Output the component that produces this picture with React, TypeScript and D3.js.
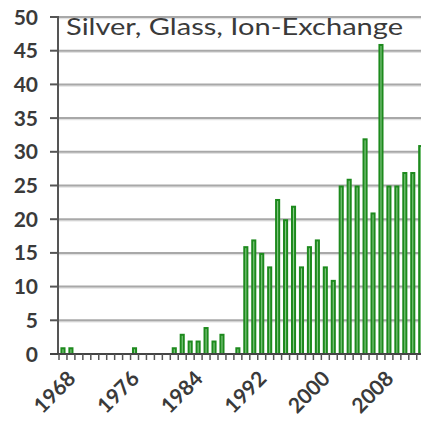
import * as d3 from "d3";

const years = d3.range(1968, 2014).map(String);
const counts = [
  1, 1, 0, 0, 0, 0, 0, 0, 0, 1,
  0, 0, 0, 0, 1, 3, 2, 2, 4, 2,
  3, 0, 1, 16, 17, 15, 13, 23, 20, 22,
  13, 16, 17, 13, 11, 25, 26, 25, 32, 21,
  46, 25, 25, 27, 27, 31,
];
const yTicks = [0, 5, 10, 15, 20, 25, 30, 35, 40, 45, 50];
const xLabels = ["1968", "1976", "1984", "1992", "2000", "2008"];
const title = "Silver, Glass, Ion-Exchange";

const W = 421;
const H = 421;
const axisX = 58;
const baseY = 354;
const topY = 17;
const step = 7.95;

export default function App() {
  const x = d3
    .scaleBand<string>()
    .domain(years)
    .range([59, 59 + years.length * step])
    .paddingInner(0.36)
    .paddingOuter(0.18);
  const y = d3.scaleLinear().domain([0, 50]).range([baseY, topY]);
  const bw = x.bandwidth();
  const font = "Lato, 'Open Sans', sans-serif";

  return (
    <svg
      width={W}
      height={H}
      style={{ position: "fixed", left: 0, top: 0, background: "#fff", overflow: "hidden" }}
    >
      {/* gridlines */}
      {yTicks.slice(1).map((t) => (
        <g key={t}>
          <line x1={axisX} x2={W} y1={y(t) + 1.5} y2={y(t) + 1.5} stroke="#e2e2e2" strokeWidth={1.5} />
          <line x1={axisX} x2={W} y1={y(t)} y2={y(t)} stroke="#a8a8a8" strokeWidth={2} />
        </g>
      ))}

      {/* bars */}
      {years.map((yr, i) => {
        const v = counts[i];
        if (!v) return null;
        return (
          <rect
            key={yr}
            x={(x(yr) ?? 0) + 1}
            y={y(v) + 1}
            width={bw - 2}
            height={y(0) - y(v) - 1}
            fill="#86c986"
            stroke="#1d8a1d"
            strokeWidth={2}
          />
        );
      })}

      {/* y axis */}
      <line x1={axisX} x2={axisX} y1={topY - 1} y2={baseY} stroke="#555" strokeWidth={2} />
      {yTicks.map((t) => (
        <g key={t}>
          <line x1={50} x2={axisX} y1={y(t)} y2={y(t)} stroke="#555" strokeWidth={2} />
          <text
            x={38}
            y={y(t)}
            dy="0.36em"
            textAnchor="end"
            fontFamily={font}
            fontSize={21}
            fontWeight={700}
            fill="#3a3a3a"
          >
            {t}
          </text>
        </g>
      ))}

      {/* x axis */}
      <line x1={50} x2={W} y1={baseY} y2={baseY} stroke="#444" strokeWidth={2} />
      {years.map((yr) => (
        <line
          key={yr}
          x1={(x(yr) ?? 0) - (x.step() - bw) / 2}
          x2={(x(yr) ?? 0) - (x.step() - bw) / 2}
          y1={baseY}
          y2={baseY + 6}
          stroke="#555"
          strokeWidth={1.5}
        />
      ))}
      {xLabels.map((l) => {
        const cx = (x(l) ?? 0) + bw / 2;
        return (
          <text
            key={l}
            transform={`translate(${cx + 14},${baseY + 26}) rotate(-45)`}
            textAnchor="end"
            fontFamily={font}
            fontSize={21}
            fontWeight={700}
            fill="#3a3a3a"
          >
            {l}
          </text>
        );
      })}

      {/* title */}
      <text
        x={66}
        y={35}
        fontFamily={font}
        fontSize={24}
        fill="#3a3a3a"
        textLength={337}
        lengthAdjust="spacingAndGlyphs"
      >
        {title}
      </text>
    </svg>
  );
}
